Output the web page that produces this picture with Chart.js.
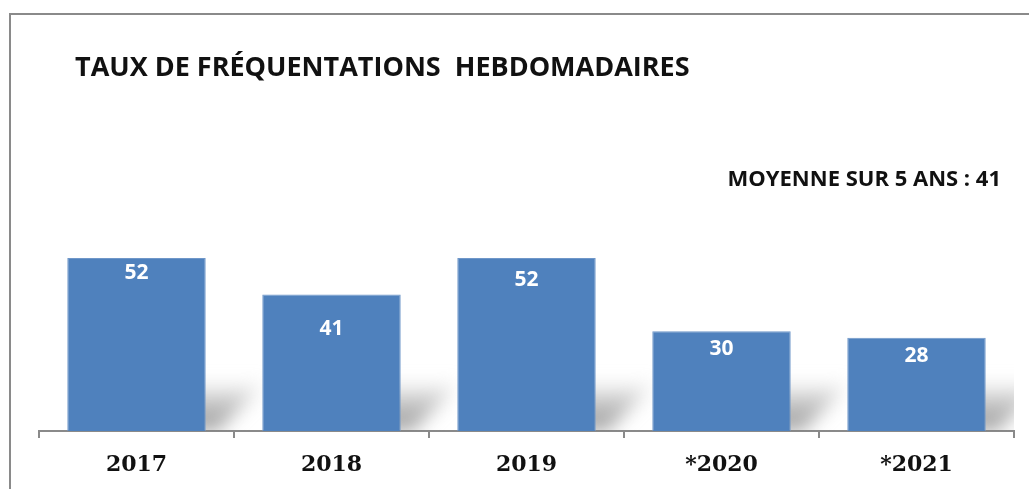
<!DOCTYPE html>
<html>
<head>
<meta charset="utf-8">
<script src="https://cdn.jsdelivr.net/npm/chart.js@4/dist/chart.umd.min.js"></script>
<style>
  html, body { margin: 0; padding: 0; background: #fff; }
  #wrap { position: relative; width: 1029px; height: 489px; }
</style>
</head>
<body>
<div id="wrap"><canvas id="c" width="1029" height="489"></canvas></div>
<script>
const categories = ['2017', '2018', '2019', '*2020', '*2021'];
const values = [52, 41, 52, 30, 28];
const chartTitle = 'TAUX DE FRÉQUENTATIONS  HEBDOMADAIRES';
const averageLabel = 'MOYENNE SUR 5 ANS : 41';

const decorPlugin = {
  id: 'decor',
  beforeDraw(chart) {
    const ctx = chart.ctx;
    ctx.save();
    ctx.fillStyle = '#fff';
    ctx.fillRect(0, 0, chart.width, chart.height);
    ctx.strokeStyle = '#8a8a8a';
    ctx.lineWidth = 2;
    ctx.beginPath();
    ctx.moveTo(10, chart.height + 2);
    ctx.lineTo(10, 14);
    ctx.lineTo(chart.width + 2, 14);
    ctx.stroke();
    ctx.fillStyle = '#111';
    ctx.textBaseline = 'middle';
    ctx.textAlign = 'left';
    ctx.font = 'bold 27px "Open Sans"';
    ctx.fillText(chartTitle, 75, 68);
    ctx.font = 'bold 22px "Open Sans"';
    ctx.textAlign = 'right';
    ctx.fillText(averageLabel, 1001, 180);
    ctx.restore();
  },
  beforeDatasetsDraw(chart) {
    const ctx = chart.ctx;
    const meta = chart.getDatasetMeta(0);
    ctx.save();
    ctx.beginPath();
    ctx.rect(chart.chartArea.left, 0, chart.chartArea.right - chart.chartArea.left, chart.chartArea.bottom);
    ctx.clip();
    ctx.filter = 'blur(9px)';
    meta.data.forEach(bar => {
      const w = bar.width;
      const l = bar.x - w / 2, r = bar.x + w / 2, b = bar.base;
      const g = ctx.createLinearGradient(0, b, 0, b - 52);
      g.addColorStop(0, 'rgba(120,120,120,0.75)');
      g.addColorStop(0.6, 'rgba(150,150,150,0.5)');
      g.addColorStop(1, 'rgba(200,200,200,0)');
      ctx.fillStyle = g;
      ctx.beginPath();
      ctx.moveTo(l + 20, b);
      ctx.lineTo(r + 12, b);
      ctx.lineTo(r + 62, b - 50);
      ctx.lineTo(l + 70, b - 50);
      ctx.closePath();
      ctx.fill();
    });
    ctx.restore();
  },
  afterDatasetsDraw(chart, args, opts) {
    const ctx = chart.ctx;
    const meta = chart.getDatasetMeta(0);
    const nudge = opts.labelNudge || [];
    ctx.save();
    ctx.fillStyle = '#fff';
    ctx.font = 'bold 21px "Open Sans"';
    ctx.textAlign = 'center';
    ctx.textBaseline = 'middle';
    meta.data.forEach((bar, i) => {
      ctx.fillText(String(values[i]), bar.x, bar.y + (nudge[i] || 16));
    });
    ctx.restore();
  }
};

new Chart(document.getElementById('c'), {
  type: 'bar',
  data: {
    labels: categories,
    datasets: [{
      data: values,
      backgroundColor: '#4F81BD',
      borderColor: '#6f97c9',
      borderWidth: 1,
      categoryPercentage: 0.71,
      barPercentage: 1.0
    }]
  },
  options: {
    responsive: false,
    animation: false,
    devicePixelRatio: 1,
    layout: { padding: { left: 39, right: 15, top: 198, bottom: 0 } },
    plugins: {
      legend: { display: false },
      tooltip: { enabled: false },
      decor: { labelNudge: [15, 34, 22, 18, 18] }
    },
    scales: {
      y: { display: false, min: 0, max: 70 },
      x: {
        afterFit(scale) { scale.height = 58; },
        border: { display: true, color: '#8a8a8a', width: 2 },
        grid: { display: true, drawOnChartArea: false, drawTicks: true, tickLength: 7, color: '#8a8a8a', lineWidth: 2, offset: true },
        ticks: { color: '#111', font: { family: 'DejaVu Serif', weight: 'bold', size: 22 }, padding: 14 }
      }
    }
  },
  plugins: [decorPlugin]
});
</script>
</body>
</html>
